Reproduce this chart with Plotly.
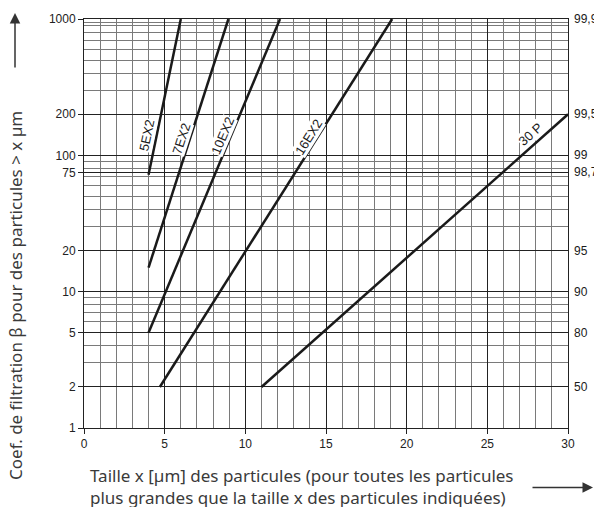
import plotly.graph_objects as go
import math

# ---- data ----
series_names = ["5EX2", "7EX2", "10EX2", "16EX2", "30 P"]
x_start = [4.0, 4.0, 4.0, 4.7, 11.0]
x_end = [6.0, 8.95, 12.15, 19.1, 30.0]
beta_start = [72, 15, 5, 2, 2]
beta_end = [1000, 1000, 1000, 1000, 200]

label_x = [3.89, 6.06, 8.6, 13.9, 27.65]
label_beta = [140, 132, 140, 136, 143]
label_angle = [-78, -72, -67, -58, -42]

y_tick_vals = [1, 2, 5, 10, 20, 75, 100, 200, 1000]
y_tick_text = ["1", "2", "5", "10", "20", "75", "100", "200", "1000"]
y_minor_vals = [3, 4, 6, 7, 8, 9, 30, 40, 50, 60, 70, 80, 90, 300, 400, 500, 600, 700, 800, 900, 950]
x_tick_vals = [0, 5, 10, 15, 20, 25, 30]
right_beta = [1000, 200, 100, 75, 20, 10, 5, 2]
right_text = ["99,9", "99,5", "99", "98,7", "95", "90", "80", "50"]

fig = go.Figure()
for name, xs, xe, bs, be in zip(series_names, x_start, x_end, beta_start, beta_end):
    fig.add_trace(go.Scatter(x=[xs, xe], y=[bs, be], mode="lines", name=name,
                             line=dict(color="#1a1a1a", width=2.5), showlegend=False,
                             hoverinfo="skip"))

annotations = []
for name, lx, lb, ang in zip(series_names, label_x, label_beta, label_angle):
    annotations.append(dict(x=lx, y=math.log10(lb), xref="x", yref="y", text=name,
                            showarrow=False, textangle=ang, bgcolor="white", borderpad=0,
                            font=dict(family="Liberation Sans", size=13, color="#1a1a1a")))
for b, t in zip(right_beta, right_text):
    annotations.append(dict(x=1, y=math.log10(b), xref="paper", yref="y", text=t,
                            showarrow=False, xanchor="left", xshift=4,
                            font=dict(family="Liberation Sans", size=12, color="#1a1a1a")))

# left axis title (rotated) and its arrow
annotations.append(dict(x=(16 - 84) / 484, y=(428 - 295) / 412, xref="paper", yref="paper",
                        xanchor="center", yanchor="middle",
                        text="Coef. de filtration β pour des particules > x µm",
                        showarrow=False, textangle=-90,
                        font=dict(family="Noto Sans", size=17, color="#3a3a3a")))
annotations.append(dict(x=(15 - 84) / 484, y=(428 - 10) / 412, xref="paper", yref="paper",
                        text="", showarrow=True, ax=0, ay=56, arrowhead=2, arrowsize=1.4,
                        arrowwidth=1.5, arrowcolor="#333"))
# bottom title and arrow
annotations.append(dict(x=(88 - 84) / 484, y=(428 - 462) / 412, xref="paper", yref="paper",
                        text="Taille x [µm] des particules (pour toutes les particules<br>"
                             "plus grandes que la taille x des particules indiquées)",
                        showarrow=False, xanchor="left", yanchor="top", align="left",
                        font=dict(family="Noto Sans", size=17, color="#3a3a3a")))
annotations.append(dict(x=(593 - 84) / 484, y=(428 - 488) / 412, xref="paper", yref="paper",
                        text="", showarrow=True, ax=-62, ay=0, arrowhead=2, arrowsize=1.4,
                        arrowwidth=1.5, arrowcolor="#333"))

fig.update_layout(
    width=594, height=507,
    margin=dict(l=84, r=26, t=16, b=79),
    paper_bgcolor="white", plot_bgcolor="white",
    annotations=annotations,
    xaxis=dict(range=[0, 30], tickmode="array", tickvals=x_tick_vals,
               ticks="outside", ticklen=5, tickcolor="#222",
               showgrid=True, gridcolor="#222", gridwidth=1,
               minor=dict(dtick=1, showgrid=True, gridcolor="#7a7a7a", gridwidth=1),
               showline=True, linecolor="#222", linewidth=1, mirror=True,
               zeroline=False,
               tickfont=dict(family="Liberation Sans", size=12, color="#222")),
    yaxis=dict(type="log", range=[0, 3], tickmode="array", tickvals=y_tick_vals,
               ticktext=y_tick_text, ticks="outside", ticklen=5, tickcolor="#222",
               showgrid=True, gridcolor="#222", gridwidth=1,
               minor=dict(tickmode="array", tickvals=y_minor_vals, showgrid=True,
                          gridcolor="#7a7a7a", gridwidth=1, ticks=""),
               showline=True, linecolor="#222", linewidth=1, mirror=True,
               zeroline=False,
               tickfont=dict(family="Liberation Sans", size=12, color="#222")),
)

fig.write_html("out.html", config={"displayModeBar": False},
               post_script="document.body.style.margin='0';document.body.style.padding='0';")
